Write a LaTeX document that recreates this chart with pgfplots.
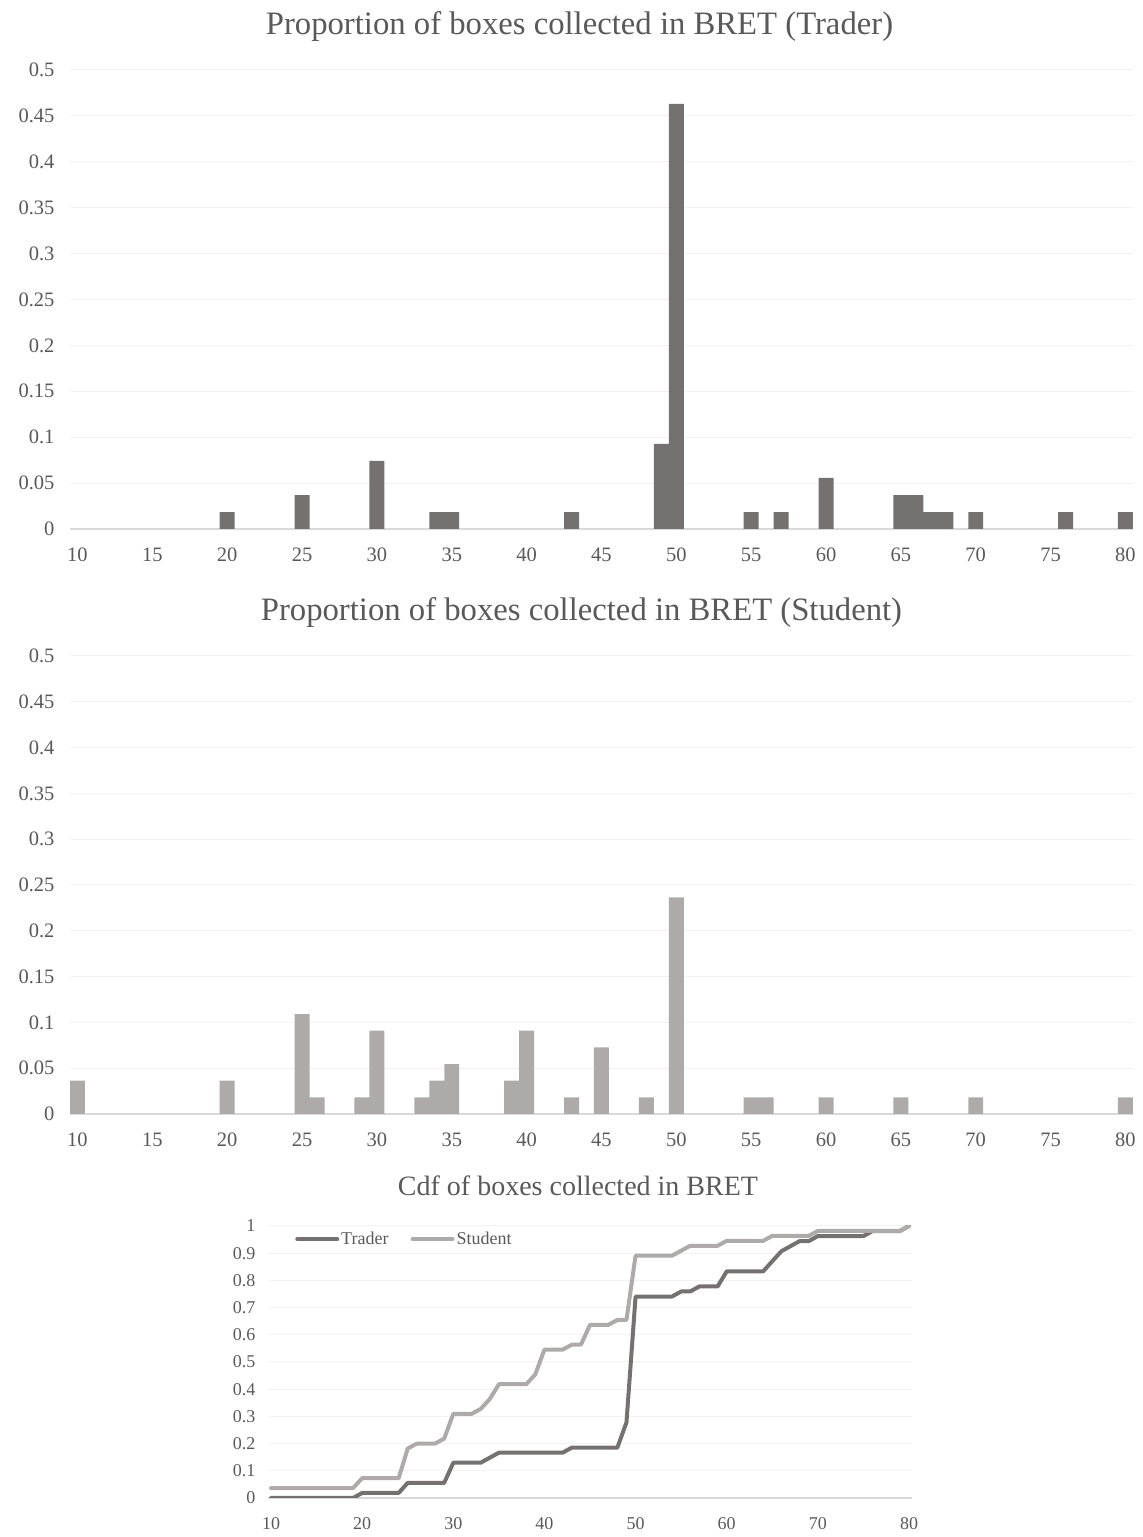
\documentclass[border=0pt]{standalone}
\usepackage{fontspec}
\setmainfont{Liberation Serif}
\usepackage{pgfplots}
\pgfplotsset{compat=1.18}
\definecolor{trader}{HTML}{767171}
\definecolor{student}{HTML}{AEAAAA}
\definecolor{txt}{HTML}{595959}
\definecolor{grd}{HTML}{F2F2F2}
\definecolor{axl}{HTML}{D9D9D9}
\pgfplotsset{
  common/.style={
    scale only axis,
    axis x line=bottom, axis y line=left,
    x axis line style={draw=axl, line width=1.5bp, -},
    y axis line style={draw=none},
    major tick length=0pt,
    tick style={draw=none},
    ymajorgrids, grid style={draw=grd, line width=1bp},
    scaled ticks=false,
    /pgf/number format/assume math mode=true,
    ticklabel style={text=txt},
    yticklabel style={/pgf/number format/fixed, /pgf/number format/precision=2},
  },
  hist/.style={
    common,
    width=1063bp, height=459bp,
    xmin=9.5, xmax=80.5, ymin=0, ymax=0.5,
    ytick={0,0.05,0.1,0.15,0.2,0.25,0.3,0.35,0.4,0.45,0.5},
    xtick={10,15,20,25,30,35,40,45,50,55,60,65,70,75,80},
    ticklabel style={font=\fontsize{20.5bp}{24bp}\selectfont},
    yticklabel style={xshift=-12bp},
    xticklabel style={anchor=base, yshift=-33bp},
    ybar, bar width=1,
    title style={font=\fontsize{32.7bp}{39bp}\selectfont, text=txt, at={(0.5,1)}, anchor=base, yshift=30bp},
  },
}
\begin{document}
\begin{tikzpicture}
\path[use as bounding box] (0,0) rectangle (1143bp,1537bp);

% Trader histogram
\begin{axis}[hist, at={(70bp,1008bp)}, anchor=south west,
  title={Proportion of boxes collected in BRET (Trader)},
  title style={xshift=-22bp}]
\addplot[fill=trader, draw=none] coordinates {
(20,0.0185) (25,0.0370) (30,0.0741) (34,0.0185) (35,0.0185) (43,0.0185)
(49,0.0926) (50,0.4630) (55,0.0185) (57,0.0185) (60,0.0556) (65,0.0370)
(66,0.0370) (67,0.0185) (68,0.0185) (70,0.0185) (76,0.0185) (80,0.0185)};
\end{axis}

% Student histogram
\begin{axis}[hist, at={(70bp,423bp)}, anchor=south west, height=458bp,
  title={Proportion of boxes collected in BRET (Student)},
  title style={xshift=-20bp}]
\addplot[fill=student, draw=none] coordinates {
(10,0.0364) (20,0.0364) (25,0.1091) (26,0.0182) (29,0.0182) (30,0.0909)
(33,0.0182) (34,0.0364) (35,0.0545) (39,0.0364) (40,0.0909) (43,0.0182)
(45,0.0727) (48,0.0182) (50,0.2364) (55,0.0182) (56,0.0182) (60,0.0182)
(65,0.0182) (70,0.0182) (80,0.0182)};
\end{axis}

% CDF
\begin{axis}[common, at={(268bp,39bp)}, anchor=south west,
  width=644bp, height=272bp,
  xmin=9.67, xmax=80.33, ymin=0, ymax=1,
  ytick={0,0.1,0.2,0.3,0.4,0.5,0.6,0.7,0.8,0.9,1},
  xtick={10,20,30,40,50,60,70,80},
  ticklabel style={font=\fontsize{18bp}{21bp}\selectfont},
  yticklabel style={xshift=-9bp, /pgf/number format/precision=1},
  xticklabel style={anchor=base, yshift=-31bp},
  title={Cdf of boxes collected in BRET},
  title style={font=\fontsize{28bp}{34bp}\selectfont, text=txt, at={(0.5,1)}, anchor=base, yshift=25bp, xshift=-12bp},
  legend style={draw=none, fill=none, at={(0.042,0.985)}, anchor=north west,
    font=\fontsize{18bp}{21bp}\selectfont, text=txt, inner sep=0pt,
    /tikz/every even column/.append style={column sep=20bp}},
  legend columns=2,
  legend image code/.code={\draw[#1, line width=4bp] (0bp,0bp) -- (40bp,0bp);},
  every axis plot/.append style={line join=round, line cap=round},
]
\addplot[trader, line width=4bp] coordinates {
(10,0) (11,0) (12,0) (13,0) (14,0) (15,0) (16,0) (17,0) (18,0) (19,0)
(20,0.0185) (21,0.0185) (22,0.0185) (23,0.0185) (24,0.0185)
(25,0.0556) (26,0.0556) (27,0.0556) (28,0.0556) (29,0.0556)
(30,0.1296) (31,0.1296) (32,0.1296) (33,0.1296) (34,0.1481)
(35,0.1667) (36,0.1667) (37,0.1667) (38,0.1667) (39,0.1667)
(40,0.1667) (41,0.1667) (42,0.1667) (43,0.1852) (44,0.1852)
(45,0.1852) (46,0.1852) (47,0.1852) (48,0.1852) (49,0.2778)
(50,0.7407) (51,0.7407) (52,0.7407) (53,0.7407) (54,0.7407)
(55,0.7593) (56,0.7593) (57,0.7778) (58,0.7778) (59,0.7778)
(60,0.8333) (61,0.8333) (62,0.8333) (63,0.8333) (64,0.8333)
(65,0.8704) (66,0.9074) (67,0.9259) (68,0.9444) (69,0.9444)
(70,0.9630) (71,0.9630) (72,0.9630) (73,0.9630) (74,0.9630) (75,0.9630)
(76,0.9815) (77,0.9815) (78,0.9815) (79,0.9815) (80,1)};
\addlegendentry{Trader}
\addplot[student, line width=4bp] coordinates {
(10,0.0364) (11,0.0364) (12,0.0364) (13,0.0364) (14,0.0364) (15,0.0364)
(16,0.0364) (17,0.0364) (18,0.0364) (19,0.0364)
(20,0.0727) (21,0.0727) (22,0.0727) (23,0.0727) (24,0.0727)
(25,0.1818) (26,0.2) (27,0.2) (28,0.2) (29,0.2182)
(30,0.3091) (31,0.3091) (32,0.3091) (33,0.3273) (34,0.3636)
(35,0.4182) (36,0.4182) (37,0.4182) (38,0.4182) (39,0.4545)
(40,0.5455) (41,0.5455) (42,0.5455) (43,0.5636) (44,0.5636)
(45,0.6364) (46,0.6364) (47,0.6364) (48,0.6545) (49,0.6545)
(50,0.8909) (51,0.8909) (52,0.8909) (53,0.8909) (54,0.8909)
(55,0.9091) (56,0.9273) (57,0.9273) (58,0.9273) (59,0.9273)
(60,0.9455) (61,0.9455) (62,0.9455) (63,0.9455) (64,0.9455)
(65,0.9636) (66,0.9636) (67,0.9636) (68,0.9636) (69,0.9636)
(70,0.9818) (71,0.9818) (72,0.9818) (73,0.9818) (74,0.9818) (75,0.9818)
(76,0.9818) (77,0.9818) (78,0.9818) (79,0.9818) (80,1)};
\addlegendentry{Student}
\end{axis}
\end{tikzpicture}
\end{document}
